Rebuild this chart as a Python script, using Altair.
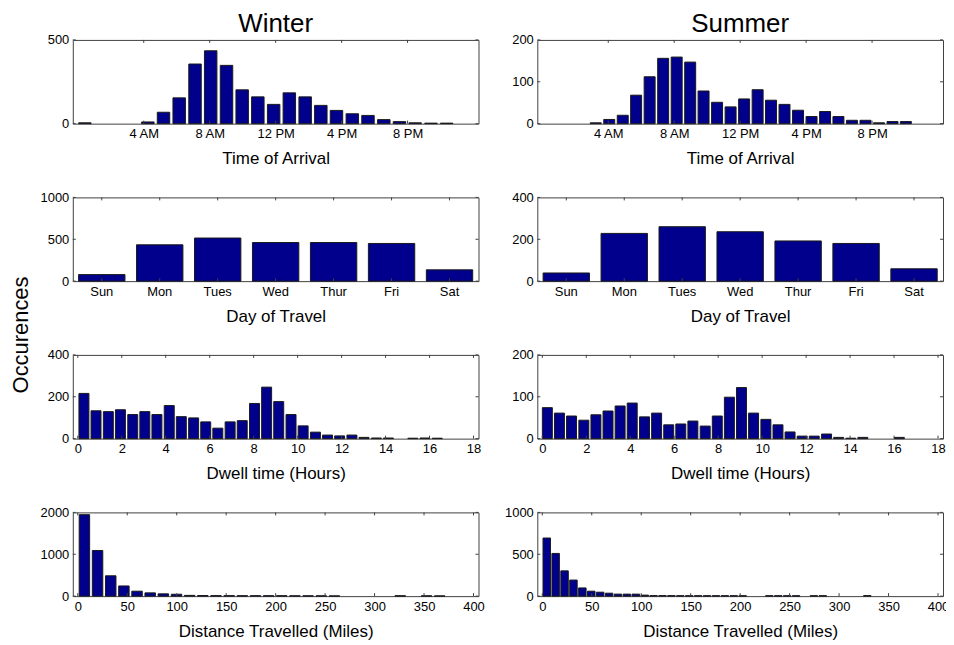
import altair as alt
import pandas as pd

FONT = "Liberation Sans"
BAR = "#00008C"
EDGE = "#1a1a1a"
FRAME = "#404040"
W, H = 407, 84

# ---------------- data ----------------
arrival_ticks = [4, 8, 12, 16, 20]
arrival_labels = ["4 AM", "8 AM", "12 PM", "4 PM", "8 PM"]

arr_w_centers = [0.43, 1.38, 2.34, 3.29, 4.25, 5.20, 6.15, 7.11, 8.06, 9.02, 9.97, 10.92,
                 11.88, 12.83, 13.79, 14.74, 15.69, 16.65, 17.60, 18.56, 19.51, 20.46, 21.42, 22.37]
arr_w_counts = [5, 0, 0, 0, 10, 68, 154, 356, 435, 348, 202, 160,
                115, 184, 160, 109, 79, 59, 49, 24, 12, 5, 3, 3]

arr_s_centers = [3.24, 4.06, 4.88, 5.69, 6.51, 7.33, 8.15, 8.97, 9.78, 10.60, 11.42, 12.24,
                 13.06, 13.87, 14.69, 15.51, 16.33, 17.15, 17.96, 18.78, 19.60, 20.42, 21.24, 22.05]
arr_s_counts = [2, 10, 20, 68, 112, 156, 159, 147, 78, 51, 40, 59,
                81, 56, 46, 32, 17, 29, 17, 8, 8, 2, 5, 5]

days = ["Sun", "Mon", "Tues", "Wed", "Thur", "Fri", "Sat"]
days_w = [78, 434, 515, 461, 461, 450, 135]
days_s = [39, 228, 260, 236, 192, 180, 59]

dwell_ticks = [0, 2, 4, 6, 8, 10, 12, 14, 16, 18]
dwell_w_centers = [0.28, 0.83, 1.39, 1.94, 2.50, 3.05, 3.60, 4.16, 4.71, 5.27, 5.82, 6.37,
                   6.93, 7.48, 8.04, 8.59, 9.14, 9.70, 10.25, 10.81, 11.36, 11.91, 12.47,
                   13.02, 13.58, 14.13, 14.68, 15.24, 15.79, 16.35, 16.90]
dwell_w_counts = [216, 133, 129, 138, 115, 129, 115, 158, 105, 99, 80, 50,
                  80, 86, 168, 246, 177, 115, 61, 31, 17, 13, 17,
                  6, 3, 3, 0, 2, 3, 2, 0]

dwell_s_centers = [0.23, 0.78, 1.33, 1.89, 2.44, 2.99, 3.54, 4.09, 4.65, 5.20, 5.75, 6.30,
                   6.85, 7.41, 7.96, 8.51, 9.06, 9.61, 10.17, 10.72, 11.27, 11.82, 12.37,
                   12.93, 13.48, 14.03, 14.58, 15.13, 15.69, 16.24]
dwell_s_counts = [74, 61, 54, 44, 57, 66, 78, 85, 52, 61, 33, 35,
                  42, 30, 54, 99, 122, 61, 46, 33, 16, 6, 6,
                  11, 3, 1, 3, 0, 0, 3]

dist_ticks = [0, 50, 100, 150, 200, 250, 300, 350, 400]
dist_w_centers = [6.7, 20.0, 33.3, 46.6, 59.9, 73.2, 86.5, 99.8, 113.1, 126.4, 139.7, 153.0,
                  166.3, 179.6, 192.9, 206.2, 219.5, 232.8, 246.1, 259.4, 272.7, 286.0,
                  299.3, 312.6, 325.9, 339.2, 352.5, 365.8]
dist_w_counts = [1945, 1090, 486, 243, 118, 78, 55, 45, 18, 15, 12, 12,
                 10, 10, 10, 10, 8, 8, 8, 6, 0, 0,
                 0, 0, 10, 0, 8, 6]

dist_s_centers = [4.5, 13.5, 22.5, 31.5, 40.5, 49.5, 58.5, 67.5, 76.5, 85.5, 94.5, 103.5,
                  112.5, 121.5, 130.5, 139.5, 148.5, 157.5, 166.5, 175.5, 184.5, 193.5, 202.5,
                  211.5, 220.5, 229.5, 238.5, 247.5, 256.5, 265.5, 274.5, 283.5, 292.5, 301.5,
                  310.5, 319.5, 328.5]
dist_s_counts = [694, 510, 302, 192, 98, 59, 47, 35, 24, 24, 24, 12,
                 6, 6, 6, 5, 5, 5, 5, 5, 5, 5, 5,
                 0, 0, 5, 5, 5, 5, 0, 5, 5, 0, 0,
                 0, 0, 6]


# ---------------- helpers ----------------
def build(df, xenc_fn, yaxis, ymax, yticks, title=None):
    """Bars plus MATLAB-style inward tick marks on all four sides."""
    yscale = alt.Scale(domain=[0, ymax], nice=False)
    yenc = lambda: alt.Y("y:Q", scale=yscale, axis=yaxis)
    bars = alt.Chart(df).mark_bar(color=BAR, stroke=EDGE, strokeWidth=1, **xenc_fn("size")).encode(
        x=xenc_fn("enc"), y=yenc())
    tx = xenc_fn("ticks")
    top = alt.Chart(tx).mark_rule(color=FRAME).encode(
        x=xenc_fn("tickenc"), y=alt.value(0), y2=alt.value(3))
    bot = alt.Chart(tx).mark_rule(color=FRAME).encode(
        x=xenc_fn("tickenc"), y=alt.value(H), y2=alt.value(H - 3))
    ty = pd.DataFrame({"y": yticks})
    left = alt.Chart(ty).mark_rule(color=FRAME).encode(
        y=yenc(), x=alt.value(0), x2=alt.value(3))
    right = alt.Chart(ty).mark_rule(color=FRAME).encode(
        y=yenc(), x=alt.value(W), x2=alt.value(W - 3))
    ch = alt.layer(bars, top, bot, left, right).properties(width=W, height=H)
    if title:
        ch = ch.properties(title=alt.TitleParams(title, fontSize=26, fontWeight="normal",
                                                 font=FONT, color="black", offset=-3))
    return ch


def hist_panel(centers, counts, xdom, ymax, xticks, yticks, xtitle, barsize,
               label_expr=None, title=None):
    df = pd.DataFrame({"x": centers, "y": counts})
    df = df[df["y"] > 0]
    axis_kw = dict(values=xticks, title=xtitle)
    if label_expr:
        axis_kw["labelExpr"] = label_expr
    xaxis = alt.Axis(**axis_kw)
    xscale = alt.Scale(domain=xdom, nice=False, zero=False)
    yaxis = alt.Axis(values=yticks, title=None, format="d")

    def xenc_fn(kind):
        if kind == "size":
            return {"size": barsize}
        if kind == "ticks":
            return pd.DataFrame({"x": xticks})
        return alt.X("x:Q", scale=xscale, axis=xaxis)

    return build(df, xenc_fn, yaxis, ymax, yticks, title)


def day_panel(counts, ymax, yticks):
    df = pd.DataFrame({"x": days, "y": counts})
    xscale = alt.Scale(domain=days, paddingInner=0.2, paddingOuter=0.1)
    xaxis = alt.Axis(title="Day of Travel", labelAngle=0)
    yaxis = alt.Axis(values=yticks, title=None, format="d")

    def xenc_fn(kind):
        if kind == "size":
            return {}
        if kind == "ticks":
            return pd.DataFrame({"x": days})
        if kind == "tickenc":
            return alt.X("x:N", scale=xscale, axis=xaxis, sort=days, bandPosition=0.5)
        return alt.X("x:N", scale=xscale, axis=xaxis, sort=days)

    return build(df, xenc_fn, yaxis, ymax, yticks)


arr_expr = "{}[indexof({}, datum.value)]".format(
    "[" + ",".join("'%s'" % s for s in arrival_labels) + "]",
    "[" + ",".join(str(v) for v in arrival_ticks) + "]")

panels = [
    hist_panel(arr_w_centers, arr_w_counts, [0, 24], 500, arrival_ticks, [0, 500],
               "Time of Arrival", 12.5, arr_expr, "Winter"),
    hist_panel(arr_s_centers, arr_s_counts, [0, 24], 200, arrival_ticks, [0, 100, 200],
               "Time of Arrival", 11, arr_expr, "Summer"),
    day_panel(days_w, 1000, [0, 500, 1000]),
    day_panel(days_s, 400, [0, 200, 400]),
    hist_panel(dwell_w_centers, dwell_w_counts, [0, 18], 400, dwell_ticks, [0, 200, 400],
               "Dwell time (Hours)", 10),
    hist_panel(dwell_s_centers, dwell_s_counts, [0, 18], 200, dwell_ticks, [0, 100, 200],
               "Dwell time (Hours)", 10),
    hist_panel(dist_w_centers, dist_w_counts, [0, 400], 2000, dist_ticks, [0, 1000, 2000],
               "Distance Travelled (Miles)", 10.5),
    hist_panel(dist_s_centers, dist_s_counts, [0, 400], 1000, dist_ticks, [0, 500, 1000],
               "Distance Travelled (Miles)", 7.5),
]

chart = alt.concat(
    *panels, columns=2, spacing={"row": 74, "column": 59}, bounds="flush", align="all"
).properties(
    title=alt.TitleParams("Occurences", orient="left", anchor="middle", fontSize=22,
                          fontWeight="normal", font=FONT, color="black", offset=7, dx=-10),
    padding={"left": 1, "top": 1, "right": -4, "bottom": 0},
).configure_view(
    stroke=FRAME, strokeWidth=1
).configure_axis(
    domain=False, ticks=False, grid=False,
    labelFont=FONT, titleFont=FONT, labelFontSize=13, titleFontSize=17,
    titleFontWeight="normal", labelColor="black", titleColor="black",
    labelPadding=4, titlePadding=10, labelFlush=False, labelOverlap=False,
)

chart.save("out.html", embed_options={"renderer": "svg", "actions": False})
